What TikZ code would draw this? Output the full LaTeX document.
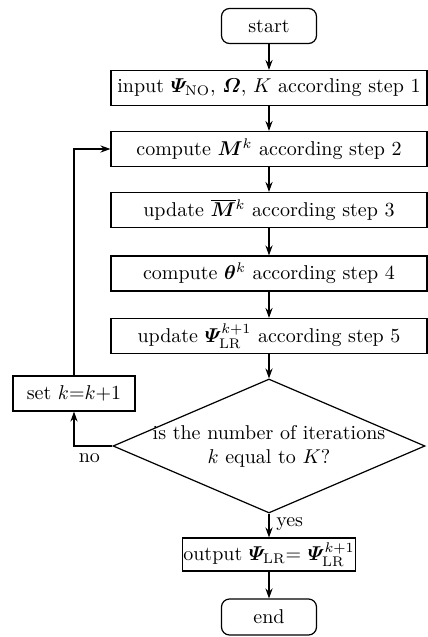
\documentclass[tikz,border=0pt]{standalone}
\usepackage{amsmath,bm}
\usetikzlibrary{shapes.geometric,arrows.meta}

\begin{document}
\begin{tikzpicture}[x=0.5pt, y=-0.5pt, >={Stealth[length=5pt,width=3.6pt]},
    process/.style ={rectangle, draw, semithick, minimum width=158pt, minimum height=17.5pt, inner sep=0pt},
    terminal/.style ={rectangle, rounded corners=4pt, draw, semithick, minimum width=47.5pt, minimum height=17.5pt, inner sep=0pt},
    decision/.style ={diamond, draw, semithick, minimum width=156pt, minimum height=67pt, inner sep=0pt}]
   \useasboundingbox (0,0) rectangle (428,637);
   \node[terminal] (start) at (269,26) {start};
   \node[process] (input) at (269,88) {input $\bm{\varPsi}_{\mathrm{NO}}$, $\bm{\varOmega}$, $K$ according step 1};
   \node[process] (compM) at (269,149) {compute $\bm{M}^k$ according step 2};
   \node[process] (updM) at (269,210) {update $\overline{\bm{M}}{}^k$ according step 3};
   \node[process] (compT) at (269,273.5) {compute $\bm{\theta}^k$ according step 4};
   \node[process] (updP) at (269,336) {update $\bm{\varPsi}_{\mathrm{LR}}^{k+1}$ according step 5};
   \node[decision] (check) at (269,446)
      [label={[align=center]center:is the number of iterations\\$k$ equal to $K$?}] {};
   \node[process, minimum width=61pt] (setk) at (74,393.5) {set $k$=$k$+1};
   \node[process, minimum width=86.5pt, minimum height=16.5pt] (output) at (269,554.5)
      {output $\bm{\varPsi}_{\mathrm{LR}}$= $\bm{\varPsi}_{\mathrm{LR}}^{k+1}$};
   \node[terminal, minimum height=18pt] (end) at (269,617) {end};
%  main column
   \draw[semithick, ->] (start) to (input);
   \draw[semithick, ->] (input) to (compM);
   \draw[semithick, ->] (compM) to (updM);
   \draw[semithick, ->] (updM) to (compT);
   \draw[semithick, ->] (compT) to (updP);
   \draw[semithick, ->] (updP.south) to (check.north);
   \draw[semithick, ->] (check.south) to node[right, pos=0.45] {yes} (output.north);
   \draw[semithick, ->] (output) to (end);
%  loop back
   \draw[semithick, ->] (check.west) -| node[below, pos=0.3] {no} (setk.south);
   \draw[semithick, ->] (setk.north) |- (compM.west);
 \end{tikzpicture}
\end{document}
